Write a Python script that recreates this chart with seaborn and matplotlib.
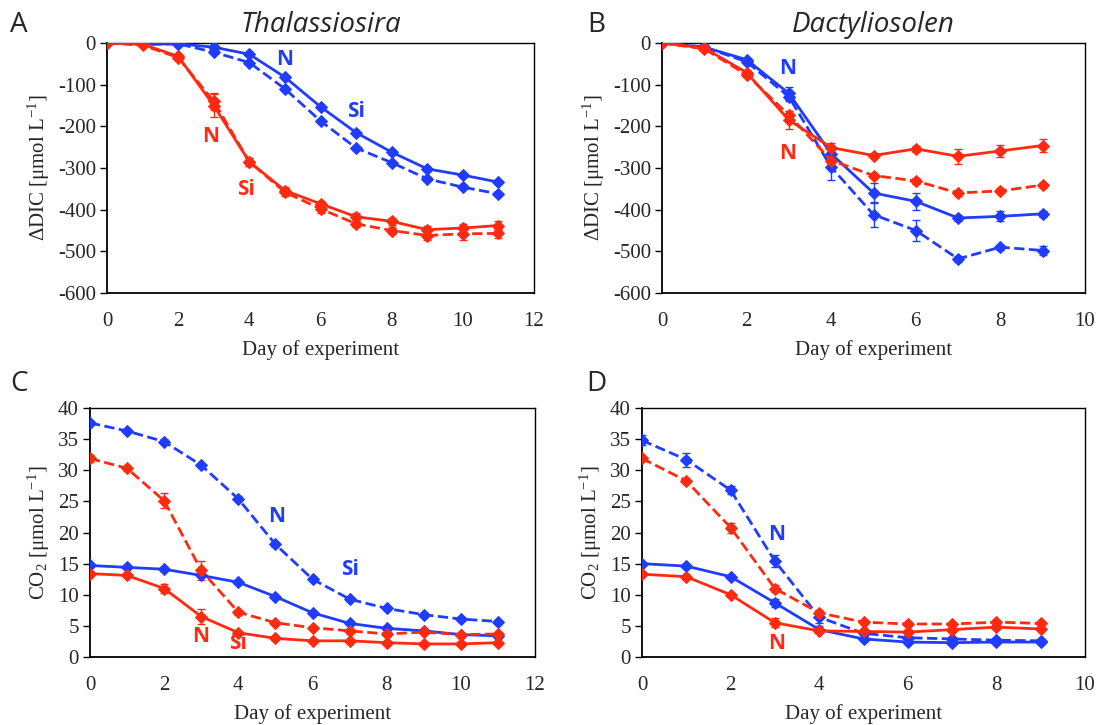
import numpy as np
import pandas as pd
import matplotlib
matplotlib.use("Agg")
import matplotlib.pyplot as plt
import seaborn as sns

# ---------------- data ----------------
days_T = list(range(12))   # Thalassiosira: days 0-11
days_D = list(range(10))   # Dactyliosolen: days 0-9

# Panel A: Thalassiosira  dDIC
A_blue_solid = [0, -3, -2, -10, -27, -82, -153, -215, -262, -302, -317, -334]
A_blue_solid_err = [0, 2, 3, 3, 4, 5, 5, 5, 5, 5, 5, 5]
A_blue_dash = [0, -3, -2, -22, -47, -110, -187, -252, -287, -326, -346, -362]
A_blue_dash_err = [0, 2, 3, 3, 4, 5, 5, 5, 5, 5, 5, 5]
A_red_solid = [0, -3, -32, -150, -285, -354, -386, -417, -428, -448, -444, -438]
A_red_solid_err = [0, 3, 6, 28, 10, 8, 8, 8, 8, 10, 10, 10]
A_red_dash = [0, -5, -35, -140, -285, -358, -398, -434, -450, -462, -458, -457]
A_red_dash_err = [0, 3, 6, 20, 10, 10, 10, 8, 8, 10, 14, 10]

# Panel B: Dactyliosolen dDIC
B_blue_solid = [0, -10, -40, -121, -266, -360, -380, -420, -416, -410]
B_blue_solid_err = [0, 3, 5, 15, 20, 25, 20, 8, 12, 8]
B_blue_dash = [0, -10, -45, -129, -298, -412, -450, -518, -490, -498]
B_blue_dash_err = [0, 3, 5, 10, 30, 30, 25, 8, 6, 10]
B_red_solid = [0, -12, -71, -185, -251, -270, -254, -272, -259, -246]
B_red_solid_err = [0, 3, 6, 22, 10, 6, 8, 18, 15, 15]
B_red_dash = [0, -14, -76, -173, -282, -318, -331, -360, -355, -341]
B_red_dash_err = [0, 3, 6, 10, 8, 6, 8, 8, 6, 6]

# Panel C: Thalassiosira CO2
C_blue_dash = [37.6, 36.3, 34.6, 30.8, 25.4, 18.1, 12.5, 9.3, 7.8, 6.8, 6.1, 5.7]
C_blue_dash_err = [0.3, 0.3, 0.4, 0.3, 0.4, 0.4, 0.3, 0.3, 0.3, 0.3, 0.3, 0.3]
C_red_dash = [31.9, 30.3, 25.1, 13.9, 7.2, 5.5, 4.7, 4.2, 3.7, 4.0, 3.6, 3.7]
C_red_dash_err = [0.6, 0.4, 1.2, 1.5, 0.4, 0.3, 0.3, 0.3, 0.3, 0.3, 0.3, 0.3]
C_blue_solid = [14.7, 14.4, 14.1, 13.1, 12.0, 9.7, 7.1, 5.4, 4.6, 4.2, 3.6, 3.4]
C_blue_solid_err = [0.3, 0.3, 0.3, 0.3, 0.3, 0.3, 0.3, 0.3, 0.3, 0.3, 0.3, 0.3]
C_red_solid = [13.4, 13.1, 11.0, 6.5, 3.9, 3.0, 2.6, 2.6, 2.3, 2.1, 2.1, 2.3]
C_red_solid_err = [0.4, 0.3, 0.7, 1.2, 0.3, 0.3, 0.3, 0.3, 0.3, 0.3, 0.3, 0.3]

# Panel D: Dactyliosolen CO2
D_blue_dash = [34.8, 31.7, 26.8, 15.4, 6.4, 3.8, 3.1, 2.9, 2.7, 2.6]
D_blue_dash_err = [0.8, 1.1, 0.6, 1.0, 1.0, 0.3, 0.3, 0.3, 0.3, 0.3]
D_red_dash = [31.9, 28.3, 20.8, 11.0, 7.1, 5.6, 5.3, 5.3, 5.6, 5.4]
D_red_dash_err = [0.4, 0.4, 0.8, 0.5, 0.4, 0.3, 0.3, 0.3, 0.3, 0.3]
D_blue_solid = [15.0, 14.6, 12.9, 8.7, 4.4, 2.9, 2.4, 2.3, 2.4, 2.4]
D_blue_solid_err = [0.3, 0.3, 0.3, 0.6, 0.5, 0.3, 0.3, 0.3, 0.3, 0.3]
D_red_solid = [13.3, 12.9, 10.0, 5.5, 4.2, 4.1, 4.0, 4.4, 4.8, 4.5]
D_red_solid_err = [0.3, 0.3, 0.3, 0.7, 0.3, 0.3, 0.3, 0.3, 0.3, 0.3]

panel_titles = ["Thalassiosira", "Dactyliosolen"]
panel_letters = ["A", "B", "C", "D"]
x_label = "Day of experiment"
y_label_dic = "\u0394DIC [\u03bcmol L$^{-1}$]"
y_label_co2 = "CO$_2$ [\u03bcmol L$^{-1}$]"

# annotations: (text, color key, x, y)
ann_A = [("N", "blue", 5.0, -40), ("Si", "blue", 7.0, -165), ("N", "red", 2.92, -225), ("Si", "red", 3.91, -352)]
ann_B = [("N", "blue", 2.97, -60), ("N", "red", 2.97, -265)]
ann_C = [("N", "blue", 5.02, 22.6), ("Si", "blue", 7.02, 14.1), ("N", "red", 2.99, 3.3), ("Si", "red", 4.0, 2.1)]
ann_D = [("N", "blue", 3.04, 19.6), ("N", "red", 3.04, 2.2)]

# ---------------- style ----------------
sns.set_style("ticks")
plt.rcParams["font.family"] = ["Liberation Serif", "DejaVu Serif"]
plt.rcParams["mathtext.fontset"] = "custom"
plt.rcParams["mathtext.rm"] = "Liberation Serif"
plt.rcParams["mathtext.it"] = "Liberation Serif:italic"
plt.rcParams["axes.unicode_minus"] = False

COLORS = {"blue": "#1f3cff", "red": "#ff2a10"}
SANS = ["Open Sans", "DejaVu Sans"]

fig = plt.figure(figsize=(10.99, 7.25), dpi=100)

def px_axes(l, r, t, b):
    W, H = 1099, 725
    return fig.add_axes([l / W, 1 - b / H, (r - l) / W, (b - t) / H])

axA = px_axes(107, 534, 43, 293)
axB = px_axes(662, 1085, 43, 293)
axC = px_axes(90, 535, 408, 657)
axD = px_axes(642, 1085, 408, 657)


def draw_series(ax, x, y, err, color, ls):
    ax.errorbar(x, y, yerr=err, fmt="none", ecolor=COLORS[color], elinewidth=1.0,
                capsize=3, capthick=1.0, zorder=2)
    sns.lineplot(x=x, y=y, ax=ax, color=COLORS[color], linestyle=ls, linewidth=2.0,
                 marker="D", markersize=6.5, markeredgecolor=COLORS[color],
                 dashes=False, zorder=3, legend=False)


def style_axes(ax, xmax, ylim, yticks, ylabel):
    ax.set_xlim(0, xmax)
    ax.set_ylim(*ylim)
    ax.set_xticks(np.arange(0, xmax + 1, 2))
    ax.set_yticks(yticks)
    ax.tick_params(axis="y", direction="out", length=5, width=1, labelsize=15, pad=3, color="black")
    ax.tick_params(axis="x", length=0, labelsize=15, pad=14)
    for s in ax.spines.values():
        s.set_visible(True)
        s.set_color("black")
        s.set_linewidth(1.0)
    ax.spines["left"].set_linewidth(1.3)
    ax.spines["bottom"].set_linewidth(1.3)
    ax.set_xlabel(x_label, fontsize=15, labelpad=6)
    ax.set_ylabel(ylabel, fontsize=15, labelpad=4)
    ax.grid(False)


# Panel A
draw_series(axA, days_T, A_blue_dash, A_blue_dash_err, "blue", "--")
draw_series(axA, days_T, A_blue_solid, A_blue_solid_err, "blue", "-")
draw_series(axA, days_T, A_red_dash, A_red_dash_err, "red", "--")
draw_series(axA, days_T, A_red_solid, A_red_solid_err, "red", "-")
style_axes(axA, 12, (-600, 0), np.arange(-600, 1, 100), y_label_dic)

# Panel B
draw_series(axB, days_D, B_blue_dash, B_blue_dash_err, "blue", "--")
draw_series(axB, days_D, B_blue_solid, B_blue_solid_err, "blue", "-")
draw_series(axB, days_D, B_red_dash, B_red_dash_err, "red", "--")
draw_series(axB, days_D, B_red_solid, B_red_solid_err, "red", "-")
style_axes(axB, 10, (-600, 0), np.arange(-600, 1, 100), y_label_dic)

# Panel C
draw_series(axC, days_T, C_blue_dash, C_blue_dash_err, "blue", "--")
draw_series(axC, days_T, C_blue_solid, C_blue_solid_err, "blue", "-")
draw_series(axC, days_T, C_red_dash, C_red_dash_err, "red", "--")
draw_series(axC, days_T, C_red_solid, C_red_solid_err, "red", "-")
style_axes(axC, 12, (0, 40), np.arange(0, 41, 5), y_label_co2)

# Panel D
draw_series(axD, days_D, D_blue_dash, D_blue_dash_err, "blue", "--")
draw_series(axD, days_D, D_blue_solid, D_blue_solid_err, "blue", "-")
draw_series(axD, days_D, D_red_dash, D_red_dash_err, "red", "--")
draw_series(axD, days_D, D_red_solid, D_red_solid_err, "red", "-")
style_axes(axD, 10, (0, 40), np.arange(0, 41, 5), y_label_co2)

for ax, anns in zip([axA, axB, axC, axD], [ann_A, ann_B, ann_C, ann_D]):
    for txt, c, x, y in anns:
        ax.text(x, y, txt, color=COLORS[c], fontsize=15, fontweight="bold",
                family=SANS, ha="center", va="center", zorder=5)

# titles and panel letters
axA.set_title(panel_titles[0], fontsize=20, style="italic", family=SANS, pad=8)
axB.set_title(panel_titles[1], fontsize=20, style="italic", family=SANS, pad=8)
W, H = 1099, 725
for letter, (x, y) in zip(panel_letters, [(19, 25), (596, 25), (19, 384), (596, 384)]):
    fig.text(x / W, 1 - y / H, letter, fontsize=20, family=SANS, ha="center", va="center")

fig.savefig("out.png", dpi=100)
